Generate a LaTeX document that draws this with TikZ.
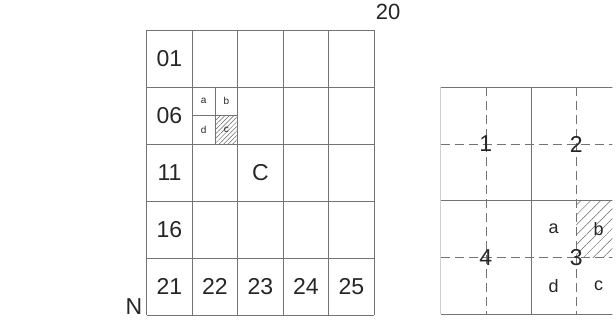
\documentclass[tikz,border=0pt]{standalone}
\usepackage{fontspec}
\setmainfont{Liberation Sans}
\usetikzlibrary{patterns.meta}
\tikzset{
  gridline/.style={black!55, line width=0.7pt},
  dashline/.style={black!55, line width=0.7pt, dash pattern=on 9pt off 5pt},
  big/.style={font=\fontsize{23}{27}\selectfont, text=black!85, inner sep=0pt},
  mid/.style={font=\fontsize{18}{21}\selectfont, text=black!85, inner sep=0pt},
  small/.style={font=\fontsize{10}{12}\selectfont, text=black!85, inner sep=0pt},
  hatch/.style={pattern={Lines[angle=45,distance=#1,line width=0.5pt]}, pattern color=black!60},
}
\begin{document}
\begin{tikzpicture}[x=1pt,y=-1pt]
    \useasboundingbox (0,0) rectangle (616,336);
    % sheet 20, split in 25
    \begin{scope}[shift={(146.7,30)}, x=45.5pt, y=-57pt]
        \fill[hatch=3.2pt] (1.5,1.5) rectangle (2,2);
        \foreach \i in {0,...,5} {
            \draw[gridline] (\i,0) -- (\i,5);
            \draw[gridline] (0,\i) -- (5,\i);
        }
        \draw[gridline, line width=0.5pt] (1,1.5) -- (2,1.5) (1.5,1) -- (1.5,2);
        \foreach \t [count=\r from 0] in {01,06,11,16} \node[big] (s\t) at (0.5,\r+0.5) {\t};
        \foreach \t [count=\c from 0] in {21,...,25} \node[big] (s\t) at (\c+0.5,4.5) {\t};
        \node[big] (sC) at (2.5,2.5) {C};
        \foreach \q/\x/\y in {a/1.25/1.25, b/1.75/1.25, d/1.25/1.75, c/1.75/1.75}
            \node[small] (s\q) at (\x,\y) {\q};
    \end{scope}
    \node[big, font=\fontsize{22}{26}\selectfont] (sheet) at (388,11.5) {20};
    \node[big, anchor=base] (north) at (134,315) {N};
    % detail of part C
    \begin{scope}[shift={(440.7,87.3)}, x=90.3pt, y=-113.5pt]
        \clip (0,-1) rectangle (1.9,2.2);
        \fill[hatch=7pt] (1.5,1) rectangle (2,1.5);
        \foreach \i in {0,1,2} {
            \draw[gridline] (\i,0) -- (\i,2);
            \draw[gridline] (0,\i) -- (2.1,\i);
        }
        \foreach \v in {0.5,1.5} {
            \draw[dashline] (\v,0) -- (\v,2);
            \draw[dashline] (0,\v) -- (2.1,\v);
        }
        \foreach \q/\x/\y in {1/0.5/0.5, 2/1.5/0.5, 4/0.5/1.5, 3/1.5/1.5}
            \node[big] (p\q) at (\x,\y) {\q};
        \foreach \q/\x/\y in {a/1.25/1.25, b/1.75/1.25, d/1.25/1.75, c/1.75/1.75}
            \node[mid] (p\q) at (\x,\y) {\q};
    \end{scope}
\end{tikzpicture}
\end{document}
